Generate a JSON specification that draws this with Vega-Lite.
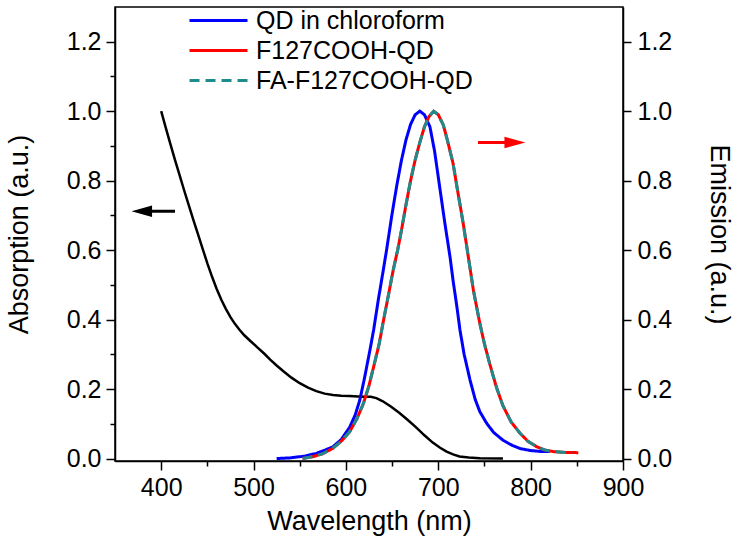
{
  "$schema": "https://vega.github.io/schema/vega-lite/v6.json",
  "width": 508,
  "height": 454,
  "autosize": {"type": "none"},
  "padding": {"left": 115, "top": 7, "right": 114, "bottom": 83},
  "background": "white",
  "config": {
    "font": "Liberation Sans",
    "view": {"stroke": "black", "strokeWidth": 1.5},
    "axis": {
      "grid": false,
      "domainColor": "black",
      "domainWidth": 1.5,
      "tickColor": "black",
      "tickWidth": 1.5,
      "labelColor": "black",
      "labelFontSize": 25,
      "labelFont": "Liberation Sans",
      "titleFont": "Liberation Sans",
      "titleFontSize": 27,
      "titleFontWeight": "normal",
      "titleColor": "black",
      "labelFlush": false
    }
  },
  "datasets": {
    "absorption": [
      {"wl": 400, "abs": 1.0}, {"wl": 405, "abs": 0.952}, {"wl": 410, "abs": 0.905}, {"wl": 415, "abs": 0.859},
      {"wl": 420, "abs": 0.815}, {"wl": 425, "abs": 0.771}, {"wl": 430, "abs": 0.728}, {"wl": 435, "abs": 0.686},
      {"wl": 440, "abs": 0.645}, {"wl": 445, "abs": 0.603}, {"wl": 450, "abs": 0.562}, {"wl": 455, "abs": 0.524},
      {"wl": 460, "abs": 0.489}, {"wl": 465, "abs": 0.458}, {"wl": 470, "abs": 0.431}, {"wl": 475, "abs": 0.407},
      {"wl": 480, "abs": 0.387}, {"wl": 485, "abs": 0.37}, {"wl": 490, "abs": 0.355}, {"wl": 496, "abs": 0.34},
      {"wl": 505, "abs": 0.318}, {"wl": 512, "abs": 0.301}, {"wl": 518, "abs": 0.285}, {"wl": 525, "abs": 0.268},
      {"wl": 532, "abs": 0.252}, {"wl": 541, "abs": 0.233}, {"wl": 550, "abs": 0.217}, {"wl": 559, "abs": 0.204},
      {"wl": 568, "abs": 0.194}, {"wl": 577, "abs": 0.187}, {"wl": 586, "abs": 0.183}, {"wl": 595, "abs": 0.181},
      {"wl": 604, "abs": 0.18}, {"wl": 613, "abs": 0.179}, {"wl": 620, "abs": 0.178}, {"wl": 627, "abs": 0.178},
      {"wl": 633, "abs": 0.174}, {"wl": 640, "abs": 0.165}, {"wl": 649, "abs": 0.149}, {"wl": 658, "abs": 0.131},
      {"wl": 667, "abs": 0.111}, {"wl": 676, "abs": 0.09}, {"wl": 685, "abs": 0.067}, {"wl": 694, "abs": 0.046},
      {"wl": 702, "abs": 0.031}, {"wl": 709, "abs": 0.02}, {"wl": 716, "abs": 0.012}, {"wl": 723, "abs": 0.006},
      {"wl": 733, "abs": 0.003}, {"wl": 745, "abs": 0.001}, {"wl": 770, "abs": 0.0}
    ],
    "emission": [
      {"series": "QD in chloroform", "wl": 525, "em": 0.0},
      {"series": "QD in chloroform", "wl": 540, "em": 0.002},
      {"series": "QD in chloroform", "wl": 555, "em": 0.007},
      {"series": "QD in chloroform", "wl": 568, "em": 0.015},
      {"series": "QD in chloroform", "wl": 578, "em": 0.025},
      {"series": "QD in chloroform", "wl": 586, "em": 0.034},
      {"series": "QD in chloroform", "wl": 595, "em": 0.055},
      {"series": "QD in chloroform", "wl": 604, "em": 0.09},
      {"series": "QD in chloroform", "wl": 610, "em": 0.125},
      {"series": "QD in chloroform", "wl": 615, "em": 0.168},
      {"series": "QD in chloroform", "wl": 620, "em": 0.23},
      {"series": "QD in chloroform", "wl": 626, "em": 0.312},
      {"series": "QD in chloroform", "wl": 630, "em": 0.37},
      {"series": "QD in chloroform", "wl": 635, "em": 0.456},
      {"series": "QD in chloroform", "wl": 640, "em": 0.535},
      {"series": "QD in chloroform", "wl": 644, "em": 0.6},
      {"series": "QD in chloroform", "wl": 650, "em": 0.705},
      {"series": "QD in chloroform", "wl": 655, "em": 0.785},
      {"series": "QD in chloroform", "wl": 660, "em": 0.857},
      {"series": "QD in chloroform", "wl": 665, "em": 0.917},
      {"series": "QD in chloroform", "wl": 670, "em": 0.962},
      {"series": "QD in chloroform", "wl": 675, "em": 0.99},
      {"series": "QD in chloroform", "wl": 680, "em": 1.0},
      {"series": "QD in chloroform", "wl": 685, "em": 0.99},
      {"series": "QD in chloroform", "wl": 691, "em": 0.955},
      {"series": "QD in chloroform", "wl": 696, "em": 0.885},
      {"series": "QD in chloroform", "wl": 702, "em": 0.773},
      {"series": "QD in chloroform", "wl": 707, "em": 0.68},
      {"series": "QD in chloroform", "wl": 712.7, "em": 0.581},
      {"series": "QD in chloroform", "wl": 716, "em": 0.513},
      {"series": "QD in chloroform", "wl": 720, "em": 0.44},
      {"series": "QD in chloroform", "wl": 723.5, "em": 0.37},
      {"series": "QD in chloroform", "wl": 728, "em": 0.3},
      {"series": "QD in chloroform", "wl": 734.4, "em": 0.226},
      {"series": "QD in chloroform", "wl": 740, "em": 0.17},
      {"series": "QD in chloroform", "wl": 745, "em": 0.135},
      {"series": "QD in chloroform", "wl": 752.5, "em": 0.101},
      {"series": "QD in chloroform", "wl": 760, "em": 0.075},
      {"series": "QD in chloroform", "wl": 770, "em": 0.053},
      {"series": "QD in chloroform", "wl": 780, "em": 0.038},
      {"series": "QD in chloroform", "wl": 788.5, "em": 0.029},
      {"series": "QD in chloroform", "wl": 800, "em": 0.023},
      {"series": "QD in chloroform", "wl": 813, "em": 0.02},
      {"series": "QD in chloroform", "wl": 821, "em": 0.02},

      {"series": "F127COOH-QD", "wl": 553, "em": 0.0},
      {"series": "F127COOH-QD", "wl": 565, "em": 0.006},
      {"series": "F127COOH-QD", "wl": 575, "em": 0.014},
      {"series": "F127COOH-QD", "wl": 586, "em": 0.03},
      {"series": "F127COOH-QD", "wl": 595, "em": 0.05},
      {"series": "F127COOH-QD", "wl": 604, "em": 0.077},
      {"series": "F127COOH-QD", "wl": 612, "em": 0.115},
      {"series": "F127COOH-QD", "wl": 619, "em": 0.159},
      {"series": "F127COOH-QD", "wl": 625, "em": 0.21},
      {"series": "F127COOH-QD", "wl": 630, "em": 0.264},
      {"series": "F127COOH-QD", "wl": 636, "em": 0.33},
      {"series": "F127COOH-QD", "wl": 641, "em": 0.402},
      {"series": "F127COOH-QD", "wl": 646, "em": 0.47},
      {"series": "F127COOH-QD", "wl": 651, "em": 0.54},
      {"series": "F127COOH-QD", "wl": 656, "em": 0.6},
      {"series": "F127COOH-QD", "wl": 660, "em": 0.655},
      {"series": "F127COOH-QD", "wl": 665, "em": 0.73},
      {"series": "F127COOH-QD", "wl": 670, "em": 0.8},
      {"series": "F127COOH-QD", "wl": 675, "em": 0.86},
      {"series": "F127COOH-QD", "wl": 680, "em": 0.91},
      {"series": "F127COOH-QD", "wl": 685, "em": 0.955},
      {"series": "F127COOH-QD", "wl": 690, "em": 0.985},
      {"series": "F127COOH-QD", "wl": 695, "em": 1.0},
      {"series": "F127COOH-QD", "wl": 700, "em": 0.99},
      {"series": "F127COOH-QD", "wl": 705.5, "em": 0.96},
      {"series": "F127COOH-QD", "wl": 710, "em": 0.915},
      {"series": "F127COOH-QD", "wl": 716, "em": 0.85},
      {"series": "F127COOH-QD", "wl": 721, "em": 0.77},
      {"series": "F127COOH-QD", "wl": 727, "em": 0.677},
      {"series": "F127COOH-QD", "wl": 732, "em": 0.59},
      {"series": "F127COOH-QD", "wl": 738, "em": 0.485},
      {"series": "F127COOH-QD", "wl": 745, "em": 0.389},
      {"series": "F127COOH-QD", "wl": 750, "em": 0.33},
      {"series": "F127COOH-QD", "wl": 756, "em": 0.27},
      {"series": "F127COOH-QD", "wl": 763, "em": 0.205},
      {"series": "F127COOH-QD", "wl": 770, "em": 0.152},
      {"series": "F127COOH-QD", "wl": 779, "em": 0.105},
      {"series": "F127COOH-QD", "wl": 788.5, "em": 0.073},
      {"series": "F127COOH-QD", "wl": 797, "em": 0.05},
      {"series": "F127COOH-QD", "wl": 806.6, "em": 0.034},
      {"series": "F127COOH-QD", "wl": 815, "em": 0.025},
      {"series": "F127COOH-QD", "wl": 824.6, "em": 0.02},
      {"series": "F127COOH-QD", "wl": 835, "em": 0.018},
      {"series": "F127COOH-QD", "wl": 851.6, "em": 0.017},

      {"series": "FA-F127COOH-QD", "wl": 553, "em": 0.0},
      {"series": "FA-F127COOH-QD", "wl": 565, "em": 0.006},
      {"series": "FA-F127COOH-QD", "wl": 575, "em": 0.014},
      {"series": "FA-F127COOH-QD", "wl": 586, "em": 0.03},
      {"series": "FA-F127COOH-QD", "wl": 595, "em": 0.05},
      {"series": "FA-F127COOH-QD", "wl": 604, "em": 0.077},
      {"series": "FA-F127COOH-QD", "wl": 612, "em": 0.115},
      {"series": "FA-F127COOH-QD", "wl": 619, "em": 0.159},
      {"series": "FA-F127COOH-QD", "wl": 625, "em": 0.21},
      {"series": "FA-F127COOH-QD", "wl": 630, "em": 0.264},
      {"series": "FA-F127COOH-QD", "wl": 636, "em": 0.33},
      {"series": "FA-F127COOH-QD", "wl": 641, "em": 0.402},
      {"series": "FA-F127COOH-QD", "wl": 646, "em": 0.47},
      {"series": "FA-F127COOH-QD", "wl": 651, "em": 0.54},
      {"series": "FA-F127COOH-QD", "wl": 656, "em": 0.6},
      {"series": "FA-F127COOH-QD", "wl": 660, "em": 0.655},
      {"series": "FA-F127COOH-QD", "wl": 665, "em": 0.73},
      {"series": "FA-F127COOH-QD", "wl": 670, "em": 0.8},
      {"series": "FA-F127COOH-QD", "wl": 675, "em": 0.86},
      {"series": "FA-F127COOH-QD", "wl": 680, "em": 0.91},
      {"series": "FA-F127COOH-QD", "wl": 685, "em": 0.955},
      {"series": "FA-F127COOH-QD", "wl": 690, "em": 0.985},
      {"series": "FA-F127COOH-QD", "wl": 695, "em": 1.0},
      {"series": "FA-F127COOH-QD", "wl": 700, "em": 0.99},
      {"series": "FA-F127COOH-QD", "wl": 705.5, "em": 0.96},
      {"series": "FA-F127COOH-QD", "wl": 710, "em": 0.915},
      {"series": "FA-F127COOH-QD", "wl": 716, "em": 0.85},
      {"series": "FA-F127COOH-QD", "wl": 721, "em": 0.77},
      {"series": "FA-F127COOH-QD", "wl": 727, "em": 0.677},
      {"series": "FA-F127COOH-QD", "wl": 732, "em": 0.59},
      {"series": "FA-F127COOH-QD", "wl": 738, "em": 0.485},
      {"series": "FA-F127COOH-QD", "wl": 745, "em": 0.389},
      {"series": "FA-F127COOH-QD", "wl": 750, "em": 0.33},
      {"series": "FA-F127COOH-QD", "wl": 756, "em": 0.27},
      {"series": "FA-F127COOH-QD", "wl": 763, "em": 0.205},
      {"series": "FA-F127COOH-QD", "wl": 770, "em": 0.152},
      {"series": "FA-F127COOH-QD", "wl": 779, "em": 0.105},
      {"series": "FA-F127COOH-QD", "wl": 788.5, "em": 0.073},
      {"series": "FA-F127COOH-QD", "wl": 797, "em": 0.05},
      {"series": "FA-F127COOH-QD", "wl": 806.6, "em": 0.034},
      {"series": "FA-F127COOH-QD", "wl": 815, "em": 0.025},
      {"series": "FA-F127COOH-QD", "wl": 824.6, "em": 0.02},
      {"series": "FA-F127COOH-QD", "wl": 835, "em": 0.018},
      {"series": "FA-F127COOH-QD", "wl": 845, "em": 0.017}
    ]
  },
  "layer": [
    {
      "data": {"name": "absorption"},
      "mark": {"type": "line", "color": "black", "strokeWidth": 2.5},
      "encoding": {
        "x": {
          "field": "wl", "type": "quantitative",
          "scale": {"domain": [350, 900], "nice": false, "zero": false},
          "axis": {
            "title": "Wavelength (nm)",
            "values": [400, 450, 500, 550, 600, 650, 700, 750, 800, 850, 900],
            "labelExpr": "datum.value % 100 === 0 ? datum.label : ''",
            "tickSize": {"condition": {"test": "datum.value % 100 !== 0", "value": 5}, "value": 9},
            "labelPadding": 5,
            "titlePadding": 8
          }
        },
        "y": {
          "field": "abs", "type": "quantitative",
          "scale": {"domain": [-0.007, 1.3], "nice": false, "zero": false},
          "axis": {
            "title": "Absorption (a.u.)",
            "orient": "left",
            "values": [0, 0.1, 0.2, 0.3, 0.4, 0.5, 0.6, 0.7, 0.8, 0.9, 1.0, 1.1, 1.2],
            "labelExpr": "round(datum.value * 10) % 2 === 0 ? format(datum.value, '.1f') : ''",
            "tickSize": {"condition": {"test": "round(datum.value * 10) % 2 !== 0", "value": 5}, "value": 9},
            "labelPadding": 5,
            "titlePadding": 33
          }
        }
      }
    },
    {
      "data": {"name": "emission"},
      "mark": {"type": "line", "strokeWidth": 3},
      "encoding": {
        "x": {"field": "wl", "type": "quantitative", "scale": {"domain": [350, 900], "nice": false, "zero": false}, "axis": null},
        "y": {
          "field": "em", "type": "quantitative",
          "scale": {"domain": [-0.007, 1.3], "nice": false, "zero": false},
          "axis": {
            "title": "Emission (a.u.)",
            "orient": "right",
            "values": [0, 0.2, 0.4, 0.6, 0.8, 1.0, 1.2],
            "format": ".1f",
            "tickSize": 8,
            "labelPadding": 6,
            "titlePadding": 33
          }
        },
        "color": {
          "field": "series", "type": "nominal",
          "scale": {"domain": ["QD in chloroform", "F127COOH-QD", "FA-F127COOH-QD"], "range": ["#0000ff", "#ff0000", "#1e8c8c"]},
          "legend": {
            "title": null, "orient": "none", "legendX": 72, "legendY": 1,
            "symbolType": "M-1,0H4.8", "symbolSize": 400, "symbolStrokeWidth": 3,
            "labelFontSize": 25, "labelFont": "Liberation Sans", "labelColor": "black", "labelLimit": 0,
            "labelOffset": 44, "rowPadding": 4, "padding": 0
          }
        },
        "strokeDash": {
          "field": "series", "type": "nominal",
          "scale": {"domain": ["QD in chloroform", "F127COOH-QD", "FA-F127COOH-QD"], "range": [[1, 0], [1, 0], [10, 6]]},
          "legend": {
            "title": null, "orient": "none", "legendX": 72, "legendY": 1,
            "symbolType": "M-1,0H4.8", "symbolSize": 400, "symbolStrokeWidth": 3,
            "labelFontSize": 25, "labelFont": "Liberation Sans", "labelColor": "black", "labelLimit": 0,
            "labelOffset": 44, "rowPadding": 4, "padding": 0
          }
        },
        "order": {"field": "wl", "type": "quantitative"}
      }
    },
    {
      "data": {"values": [{"x": 415, "x2": 380, "y": 0.712}]},
      "mark": {"type": "rule", "color": "black", "strokeWidth": 3},
      "encoding": {
        "x": {"field": "x", "type": "quantitative", "scale": {"domain": [350, 900], "nice": false, "zero": false}, "axis": null},
        "x2": {"field": "x2"},
        "y": {"field": "y", "type": "quantitative", "scale": {"domain": [-0.007, 1.3], "nice": false, "zero": false}, "axis": null}
      }
    },
    {
      "data": {"values": [{"x": 379, "y": 0.712}]},
      "mark": {"type": "point", "shape": "M-1,0L1,-0.55L1,0.55Z", "filled": true, "color": "black", "size": 420, "opacity": 1, "strokeWidth": 0},
      "encoding": {
        "x": {"field": "x", "type": "quantitative", "scale": {"domain": [350, 900], "nice": false, "zero": false}, "axis": null},
        "y": {"field": "y", "type": "quantitative", "scale": {"domain": [-0.007, 1.3], "nice": false, "zero": false}, "axis": null}
      }
    },
    {
      "data": {"values": [{"x": 743, "x2": 783, "y": 0.91}]},
      "mark": {"type": "rule", "color": "#ff0000", "strokeWidth": 3},
      "encoding": {
        "x": {"field": "x", "type": "quantitative", "scale": {"domain": [350, 900], "nice": false, "zero": false}, "axis": null},
        "x2": {"field": "x2"},
        "y": {"field": "y", "type": "quantitative", "scale": {"domain": [-0.007, 1.3], "nice": false, "zero": false}, "axis": null}
      }
    },
    {
      "data": {"values": [{"x": 783, "y": 0.91}]},
      "mark": {"type": "point", "shape": "M1,0L-1,-0.55L-1,0.55Z", "filled": true, "color": "#ff0000", "size": 440, "opacity": 1, "strokeWidth": 0},
      "encoding": {
        "x": {"field": "x", "type": "quantitative", "scale": {"domain": [350, 900], "nice": false, "zero": false}, "axis": null},
        "y": {"field": "y", "type": "quantitative", "scale": {"domain": [-0.007, 1.3], "nice": false, "zero": false}, "axis": null}
      }
    }
  ],
  "resolve": {"axis": {"x": "independent", "y": "independent"}}
}
